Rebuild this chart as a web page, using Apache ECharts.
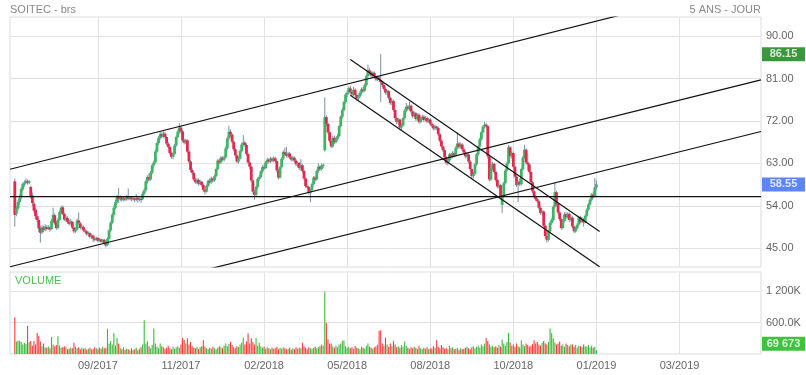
<!DOCTYPE html>
<html><head><meta charset="utf-8">
<script src="https://cdn.jsdelivr.net/npm/echarts@6/dist/echarts.min.js"></script>
<style>html,body{margin:0;padding:0;background:#fff}#c{width:806px;height:375px}</style>
</head><body><div id="c"></div>
<script>
// ---------- data ----------
const START = 3;               // category slot of the first candle
const CATEGORY_COUNT = 471;    // trading-day slots on the axis (incl. future)
const tickIndex  = [55,107,159,211,263,315,367,419];
const tickLabels = ['09/2017','11/2017','02/2018','05/2018','08/2018','10/2018','01/2019','03/2019'];
const priceTicks = [45,54,63,72,81,90];
const volTicks = [600,1200];
const volTickLabels = ['600.0K','1 200K'];
const lastClose = 58.55;
const periodHigh = 86.15;
const lastVolume = 69.673;     // thousands

// [open, close, low, high]
const candles = [
[59.2,52.1,49.6,59.8],
[52.3,53.5,51.8,54.0],[53.4,54.8,53.0,55.2],[54.8,55.7,54.2,56.4],
[55.8,57.6,55.4,58.0],[57.5,58.6,57.1,59.0],[58.5,58.9,58.1,59.4],[58.9,59.3,58.6,59.8],[59.2,58.9,58.5,59.6],[58.9,59.2,58.6,59.5],
[58.0,56.0,55.5,58.3],[56.2,54.6,54.0,56.8],
[54.5,53.0,52.5,55.0],[53.2,51.8,51.2,53.6],[51.8,51.0,50.5,52.4],
[51.0,49.2,48.5,51.4],[49.3,48.3,46.2,49.8],
[48.4,49.4,48.0,49.9],[49.4,48.9,48.4,49.8],[49.0,49.6,48.6,50.1],[49.5,49.1,48.8,49.9],[49.2,49.5,48.9,49.9],[49.4,49.0,48.5,49.7],
[49.1,50.8,48.9,51.2],[50.8,52.1,50.5,53.6],
[52.0,50.3,50.0,52.4],[50.4,49.3,48.9,50.8],
[49.3,51.0,49.0,51.4],[51.0,52.7,50.8,53.0],[52.7,53.6,52.2,54.0],
[53.7,52.3,52.0,54.1],[52.3,51.1,50.8,52.6],
[51.0,51.5,50.6,52.0],[51.4,50.6,50.2,51.8],[50.6,50.2,49.8,51.0],[50.3,50.8,50.0,51.2],
[50.6,49.4,49.1,50.8],[49.4,48.6,48.2,49.7],[48.6,49.0,48.3,49.4],
[49.0,50.9,48.8,51.3],[50.9,50.4,50.0,52.6],
[50.3,49.3,49.0,50.6],[49.3,49.6,49.0,49.9],[49.5,48.8,48.5,49.8],[48.8,48.6,48.2,49.1],[48.6,48.0,47.7,48.9],[48.0,48.3,47.6,48.6],
[48.2,47.4,47.1,48.4],[47.4,47.8,47.0,48.0],[47.7,47.1,46.3,47.9],[47.1,46.8,46.5,47.4],[46.8,47.2,46.6,47.5],[47.2,46.6,46.3,47.4],
[46.6,46.9,46.4,47.2],[46.9,46.4,46.1,47.1],[46.4,46.8,46.2,47.0],[46.8,46.0,45.7,47.0],[46.0,45.6,45.2,46.2],
[45.7,47.0,45.5,47.3],[47.0,48.8,46.8,49.1],[48.8,50.4,48.5,50.7],
[50.4,52.1,50.1,52.5],[52.1,53.6,51.6,54.1],
[53.6,54.8,53.3,55.3],[54.8,55.9,54.4,56.3],
[55.9,55.4,54.6,57.8],[55.4,55.8,55.0,56.2],[55.8,55.3,54.9,56.0],[55.3,55.7,55.0,56.0],[55.6,55.4,55.0,55.9],[55.4,55.9,55.1,56.3],[55.9,55.5,55.2,57.7],[55.5,55.8,55.2,56.1],[55.8,55.4,55.0,56.0],[55.4,55.6,55.1,55.9],[55.6,55.3,54.8,55.8],[55.3,55.7,55.0,56.5],[55.7,55.3,54.7,55.9],[55.3,55.5,55.0,55.8],[55.5,55.4,54.6,56.0],
[55.4,56.6,55.2,57.0],[56.6,57.3,56.2,57.8],
[57.3,59.2,57.0,59.5],[59.2,60.1,58.7,60.5],[60.1,59.6,59.2,60.9],
[59.6,61.0,59.3,61.4],[61.0,62.6,60.7,62.9],[62.6,63.2,62.1,63.6],
[63.2,65.5,63.0,65.9],[65.5,67.3,65.2,67.6],[67.3,68.4,66.9,68.8],[68.4,69.2,68.0,69.7],
[69.2,68.7,68.3,69.6],[68.7,69.3,68.4,69.8],[69.3,68.6,68.2,69.7],
[68.6,67.2,66.9,68.9],[67.2,66.5,66.0,67.6],[66.5,65.2,64.8,66.9],[65.2,64.4,64.0,65.6],[64.4,65.0,63.9,65.4],
[65.0,66.8,64.8,67.1],[66.8,68.6,66.5,68.9],[68.6,69.7,68.3,70.1],[69.7,70.6,69.3,71.5],[70.6,69.8,69.4,70.9],
[69.8,67.9,67.5,70.1],[67.9,67.4,67.0,68.3],[67.4,67.9,67.1,68.2],
[67.9,65.5,65.2,68.1],[65.5,63.4,63.0,65.8],[63.4,61.6,61.2,63.7],[61.6,61.0,60.5,62.0],
[61.0,59.6,59.3,61.3],[59.6,59.0,58.7,60.0],[59.0,59.5,58.6,59.9],[59.5,58.7,58.3,59.8],[58.7,59.1,58.4,59.5],[59.1,58.4,58.0,59.3],
[58.4,57.4,57.0,58.7],[57.4,57.0,56.4,57.8],
[57.0,58.2,56.8,58.5],[58.2,59.3,57.9,59.6],[59.3,59.0,58.6,59.8],[59.0,59.8,58.7,60.2],[59.8,59.4,59.0,60.0],[59.4,60.3,59.1,60.6],
[60.3,61.8,60.0,62.1],[61.8,63.6,61.5,63.9],[63.6,63.2,62.8,64.0],
[63.2,64.2,62.9,64.6],[64.2,63.8,63.5,64.5],[63.8,64.3,63.4,64.7],
[64.3,66.2,64.0,66.6],[66.2,68.3,65.9,68.7],[68.3,69.7,67.9,71.0],[69.7,69.1,68.6,70.2],
[69.1,67.6,67.2,69.4],[67.6,66.0,65.6,67.9],[66.0,64.7,64.2,66.3],[64.7,63.4,63.0,65.0],[63.4,64.0,63.0,64.4],
[64.0,65.6,63.8,65.9],[65.6,67.0,65.3,67.4],[67.0,67.4,66.6,69.0],[67.4,66.9,66.5,67.8],
[66.9,65.0,64.6,67.2],[65.0,63.2,62.8,65.3],[63.2,62.3,61.8,63.6],
[62.3,59.4,59.0,62.6],[59.4,57.0,56.6,59.7],[57.0,56.3,55.3,57.4],
[56.3,58.0,56.0,58.3],[58.0,59.7,57.6,60.0],[59.7,60.1,59.3,60.5],
[60.1,61.3,59.8,61.6],[61.3,62.2,60.9,62.6],[62.2,62.0,61.6,62.8],
[62.0,63.2,61.8,63.5],[63.2,63.8,62.8,64.2],[63.8,63.4,63.0,64.1],[63.4,64.0,63.1,64.4],[64.0,63.6,63.2,64.3],[63.6,64.1,63.3,64.5],[64.1,63.5,63.1,64.4],
[63.5,61.5,61.1,63.8],[61.5,60.0,59.6,61.8],
[60.0,62.2,59.8,62.5],[62.2,64.0,61.9,64.3],[64.0,65.4,63.7,65.8],[65.4,65.0,64.6,66.3],
[65.0,64.6,64.2,66.5],[64.6,65.1,64.2,65.5],[65.1,64.3,63.9,65.4],[64.3,63.8,63.4,64.6],
[63.8,64.2,63.4,64.6],[64.2,63.6,63.2,64.5],[63.6,62.8,62.4,63.9],[62.8,63.1,62.2,63.4],[63.1,62.0,61.6,63.3],
[62.0,62.6,61.5,63.9],[62.6,61.4,61.0,62.9],
[61.4,59.8,59.4,61.7],[59.8,58.2,57.8,60.1],[58.2,58.0,57.5,58.6],
[58.0,56.8,56.4,58.3],[56.8,57.3,54.8,57.6],
[57.3,58.6,57.0,58.9],[58.6,60.0,58.3,60.3],[60.0,59.6,59.2,60.4],
[59.6,61.4,59.3,61.7],[61.4,62.3,61.0,63.0],[62.3,61.8,61.4,62.6],
[61.8,62.5,61.5,62.9],[62.5,62.7,62.0,63.0],
[65.8,72.8,65.5,77.0],
[72.8,71.4,70.9,73.2],[71.4,69.6,69.2,71.7],[69.6,67.8,67.4,69.9],[67.8,66.6,66.2,68.1],
[66.6,68.4,66.3,68.8],[68.4,67.5,67.1,68.9],[67.5,68.2,67.2,68.6],[68.2,68.8,67.9,69.2],
[68.8,70.9,68.6,71.2],[70.9,72.9,70.6,73.2],[72.9,74.3,72.5,74.7],
[74.3,76.0,74.0,76.3],[76.0,77.6,75.7,77.9],[77.6,78.0,77.1,78.5],
[78.0,78.9,77.6,79.3],[78.9,78.2,77.8,79.5],[78.2,77.6,77.2,78.6],[77.6,78.6,77.3,79.2],
[78.6,77.5,77.1,78.9],[77.5,76.8,76.3,77.9],[76.8,77.2,76.4,77.6],
[77.2,78.0,76.9,78.3],[78.0,78.7,77.6,79.1],[78.7,78.4,78.0,79.2],[78.4,79.6,78.1,80.0],
[79.6,81.5,79.3,81.9],[81.5,82.7,81.1,83.9],[82.7,82.3,81.8,83.2],
[82.3,81.6,81.2,82.7],[81.6,82.2,81.3,82.5],[82.2,81.5,81.0,82.5],
[81.5,80.8,80.4,81.8],[80.8,81.2,80.5,81.6],[81.2,80.7,80.3,81.5],[80.7,80.2,76.0,86.15],
[80.2,79.6,79.2,80.5],[79.6,78.8,78.4,79.9],[78.8,78.0,77.6,79.1],[78.0,78.3,77.5,78.6],
[78.3,76.9,76.5,78.6],[76.9,75.8,75.4,77.2],[75.8,76.2,75.3,76.6],
[76.2,74.3,74.0,76.5],[74.3,72.6,72.2,74.6],[72.6,71.8,71.3,73.0],
[71.8,72.3,71.3,72.7],[72.3,70.6,70.2,72.5],[70.6,71.0,70.0,71.4],
[71.0,72.6,70.8,72.9],[72.6,74.2,72.3,74.5],[74.2,75.0,73.8,75.8],[75.0,74.6,74.2,75.4],
[74.6,75.2,74.2,76.1],[75.2,74.0,73.6,75.5],[74.0,73.0,72.6,74.3],[73.0,73.6,72.8,74.0],
[73.6,72.4,72.0,73.9],[72.4,73.3,72.1,73.6],[73.3,71.8,71.4,73.6],[71.8,72.5,71.5,72.8],
[72.5,72.9,72.1,73.3],[72.9,72.2,71.8,73.2],[72.2,72.6,71.9,73.0],[72.6,71.9,71.5,72.9],[71.9,72.3,71.6,72.6],
[72.3,71.4,71.0,72.6],[71.4,71.0,70.6,71.7],[71.0,70.4,70.0,71.3],[70.4,70.8,70.0,71.2],[70.8,70.5,70.1,71.0],
[70.5,69.2,68.8,70.8],[69.2,67.8,67.4,69.5],[67.8,66.6,66.2,68.1],[66.6,65.8,65.4,66.9],
[65.8,64.3,63.9,66.1],[64.3,63.1,62.7,64.6],[63.1,63.6,62.6,64.0],
[63.6,64.9,63.3,65.2],[64.9,64.4,64.0,65.3],[64.4,65.2,64.1,65.6],[65.2,64.7,64.3,65.5],
[64.7,66.3,64.4,66.7],[66.3,67.2,66.0,69.6],[67.2,66.5,66.1,67.6],[66.5,67.0,66.2,67.4],[67.0,66.0,65.6,67.3],
[66.0,65.3,64.9,66.4],[65.3,64.5,64.1,65.6],[64.5,64.9,64.2,65.3],
[64.9,63.4,63.0,65.2],[63.4,61.8,61.4,63.7],[61.8,60.3,59.9,62.1],[60.3,60.8,59.8,61.2],
[60.8,62.8,60.5,63.1],[62.8,64.9,62.5,65.2],[64.9,66.6,64.6,66.9],[66.6,68.1,66.3,68.4],
[68.1,69.6,67.8,69.9],[69.6,70.8,69.3,71.1],[70.8,71.2,70.4,71.8],[71.2,70.9,70.5,71.5],
[70.9,64.5,64.0,71.2],[64.5,59.6,59.2,64.8],
[59.6,62.0,59.3,63.3],[62.0,62.9,61.6,63.3],[62.9,61.2,60.8,63.1],
[61.2,59.5,59.1,61.5],[59.5,58.1,57.7,59.8],[58.1,58.4,57.6,58.8],
[58.4,55.8,55.4,58.6],[54.2,56.0,52.5,56.3],
[56.0,58.8,55.8,59.1],[58.8,61.5,58.5,61.8],[61.5,63.0,61.2,63.4],
[63.0,66.4,62.8,66.9],[66.4,64.6,64.2,66.7],[64.6,65.2,64.0,65.6],
[65.2,62.3,61.9,65.5],[62.3,60.2,59.8,62.6],[60.2,58.4,58.0,60.5],[58.4,59.1,54.8,59.4],[59.1,58.6,58.2,59.8],
[58.6,61.8,58.3,62.1],[61.8,64.3,61.5,64.6],[64.3,65.9,64.0,66.9],
[65.9,63.2,62.8,66.2],[63.2,62.8,61.5,65.1],[62.8,61.2,60.8,63.1],
[61.2,59.0,58.6,61.5],[59.0,57.1,56.7,59.3],[57.1,56.0,55.6,57.4],
[56.0,55.4,55.0,56.3],[55.4,55.0,54.6,55.7],
[55.0,53.6,53.2,55.3],[53.6,52.5,52.1,53.9],[52.5,52.8,52.0,53.2],
[52.8,49.8,49.4,53.0],[49.8,47.6,47.2,50.1],[47.6,46.8,46.2,47.9],
[46.8,48.6,46.5,48.9],[48.6,50.4,48.3,50.7],[50.4,51.0,50.0,51.4],
[51.0,53.8,50.7,54.1],[53.8,56.9,53.5,58.9],[56.9,54.4,54.0,57.2],
[54.4,52.6,52.2,54.7],[52.6,51.2,50.8,52.9],[51.2,49.3,48.9,51.5],[49.3,50.8,49.0,51.1],
[50.8,52.2,50.5,52.6],[52.2,51.6,51.2,52.7],[51.6,52.3,51.3,52.6],[52.3,51.0,50.6,52.6],
[51.0,51.5,50.7,51.9],[51.5,49.6,49.2,51.8],[49.6,48.6,48.2,49.9],[48.6,49.3,48.3,49.6],[49.3,50.0,49.0,50.3],
[50.0,51.6,49.8,51.9],[51.6,50.6,50.3,51.9],[50.6,51.2,50.3,51.6],[51.2,50.5,49.6,51.4],
[50.5,51.9,50.3,52.2],[51.9,53.2,51.6,53.5],[53.2,54.3,52.9,54.6],
[54.3,55.3,54.0,55.6],[55.3,56.4,55.0,56.7],[56.4,56.0,55.6,57.0],
[56.0,57.9,55.8,59.9],[57.9,58.55,57.5,59.4]
];

// volume, thousands of shares
const volumes = [
705,240,260,250,230,180,210,190,535,230,
250,160,250,180,403,340,240,150,200,130,
120,140,110,327,180,150,170,340,160,120,
130,150,140,90,100,120,110,215,140,110,
130,90,120,100,110,80,100,120,90,100,
130,110,90,120,100,140,110,120,486,200,
250,180,403,160,308,200,110,90,130,80,
100,90,70,110,80,90,120,70,100,130,
180,643,200,246,150,110,170,486,200,140,
110,202,150,130,100,120,160,110,90,140,
100,130,150,120,180,308,270,200,302,180,
230,150,120,110,140,100,130,150,265,140,
110,90,120,100,140,110,90,120,150,130,
110,160,200,150,190,233,170,130,110,150,
130,180,220,316,180,240,392,200,302,230,
180,300,160,214,150,120,140,100,130,110,
90,120,100,110,140,90,120,100,130,110,
90,100,120,80,110,90,130,100,120,110,
214,150,120,90,130,110,100,120,140,110,
130,150,180,160,1192,593,277,200,202,150,
120,160,130,180,200,252,260,150,120,140,
110,130,100,150,120,110,90,140,120,100,
160,200,140,120,100,130,150,180,441,454,
200,160,315,180,140,200,150,252,180,130,
150,120,170,140,240,160,120,100,130,110,
140,120,100,160,110,90,120,100,130,90,
110,100,150,120,265,140,110,170,130,100,
120,90,157,110,130,90,100,120,80,110,
90,100,120,140,110,90,130,150,110,140,
160,120,180,150,200,308,250,180,140,160,
130,150,120,170,140,277,200,160,230,403,
220,160,180,140,200,150,130,265,180,150,
200,170,140,160,190,265,200,230,180,160,
210,250,200,180,230,486,403,296,220,180,
200,240,160,180,140,200,170,150,180,180,
140,170,120,160,150,130,180,150,140,170,
130,160,120,140,69.673
];

// trend lines: [[slot, price], [slot, price]]
const trendLines = [
  [[0,61.75],[400,95.98]],
  [[0,41.10],[470,80.70]],
  [[120,40.23],[470,69.76]],
  [[213,85.00],[369,48.56]],
  [[213,77.43],[369,41.08]],
  [[0,55.97],[470,55.97]]
];

// ---------- styles ----------
const UP = '#3db565', DOWN = '#e8264a', WICK = '#7890aa';
const VUP = '#3cba3c', VDOWN = '#ff3b3b';
const GRIDC = '#e2e2e2', TXT = '#666', FONT = 'Liberation Sans';

const categories = [];
for (let i = 0; i < CATEGORY_COUNT; i++) categories.push(String(i));
const labelMap = {};
tickIndex.forEach((t, k) => labelMap[t] = tickLabels[k]);
const isTick = (idx) => labelMap[idx] !== undefined;

const candleData = candles.map((c, i) => [START + i, c[0], c[1], c[2], c[3]]);
const volData = volumes.map((v, i) => ({
  value: [START + i, v],
  itemStyle: { color: candles[i][1] >= candles[i][0] ? VUP : VDOWN }
}));

const chart = echarts.init(document.getElementById('c'), null, {renderer: 'canvas'});

const xBase = {
  type: 'category', data: categories, boundaryGap: false,
  axisLine: {show: false}, axisTick: {show: false},
  splitLine: {show: true, interval: (i) => isTick(i), lineStyle: {color: GRIDC, width: 1}}
};

const series = [
  {
    type: 'custom', xAxisIndex: 0, yAxisIndex: 0, z: 2,
    data: candleData,
    encode: {x: 0, y: [1, 2, 3, 4]},
    renderItem: function (params, api) {
      const x = api.value(0), o = api.value(1), c = api.value(2), l = api.value(3), h = api.value(4);
      const pH = api.coord([x, h]), pL = api.coord([x, l]);
      const pO = api.coord([x, o]), pC = api.coord([x, c]);
      const top = Math.min(pO[1], pC[1]);
      const bh = Math.max(Math.abs(pO[1] - pC[1]), 1.2);
      return {type: 'group', children: [
        {type: 'line', shape: {x1: pH[0], y1: pH[1], x2: pL[0], y2: pL[1]}, style: {stroke: WICK, lineWidth: 1}},
        {type: 'rect', shape: {x: pO[0] - 1.4, y: top, width: 2.8, height: bh}, style: {fill: c >= o ? UP : DOWN}}
      ]};
    }
  },
  {
    type: 'bar', xAxisIndex: 1, yAxisIndex: 1, data: volData, barWidth: 1.1, z: 2
  }
];

trendLines.forEach(pts => series.push({
  type: 'line', xAxisIndex: 0, yAxisIndex: 0, data: pts, symbol: 'none', showSymbol: false,
  lineStyle: {color: '#111', width: 1.2}, silent: true, z: 5
}));

// value tags on the right side
series.push({
  type: 'scatter', xAxisIndex: 0, yAxisIndex: 0, clip: false, z: 10, silent: true,
  symbol: 'rect', symbolSize: [43, 14], symbolOffset: [22.5, 0],
  data: [
    {value: [CATEGORY_COUNT - 1, periodHigh], itemStyle: {color: '#0a7d0a'}},
    {value: [CATEGORY_COUNT - 1, lastClose], itemStyle: {color: '#3366f5'}}
  ],
  label: {show: true, position: 'inside', color: '#fff', fontWeight: 'bold', fontSize: 11, fontFamily: FONT,
          formatter: p => p.value[1].toFixed(2)}
});
series.push({
  type: 'scatter', xAxisIndex: 1, yAxisIndex: 1, clip: false, z: 10, silent: true,
  symbol: 'rect', symbolSize: [43, 14], symbolOffset: [22.5, -6.5],
  data: [{value: [CATEGORY_COUNT - 1, lastVolume], itemStyle: {color: '#11b011'}}],
  label: {show: true, position: 'inside', color: '#fff', fontWeight: 'bold', fontSize: 11, fontFamily: FONT,
          formatter: p => String(Math.round(p.value[1] * 1000)).replace(/\B(?=(\d{3})+(?!\d))/g, ' ')}
});

chart.setOption({
  animation: false,
  backgroundColor: '#fff',
  textStyle: {fontFamily: FONT},
  title: [
    {text: 'SOITEC - brs', left: 10, top: 4, padding: 0, textStyle: {fontSize: 11, fontWeight: 'normal', color: '#888', fontFamily: FONT}},
    {text: '5 ANS - JOUR', right: 45, top: 4, padding: 0, textStyle: {fontSize: 11, fontWeight: 'normal', color: '#888', fontFamily: FONT}},
    {text: 'VOLUME', left: 15, top: 275, padding: 0, textStyle: {fontSize: 11, fontWeight: 'normal', color: '#4cc04c', fontFamily: FONT}}
  ],
  grid: [
    {left: 10, right: 45, top: 17, height: 250, show: true, borderColor: '#dcdcdc', borderWidth: 1},
    {left: 10, right: 45, top: 272, height: 82, show: true, borderColor: '#dcdcdc', borderWidth: 1}
  ],
  xAxis: [
    Object.assign({}, xBase, {gridIndex: 0, axisLabel: {show: false}}),
    Object.assign({}, xBase, {gridIndex: 1, axisLabel: {
      show: true, interval: (i) => isTick(i), formatter: (v, i) => labelMap[i] || '',
      color: TXT, fontSize: 11, fontFamily: FONT, margin: 6
    }})
  ],
  yAxis: [
    {type: 'value', gridIndex: 0, position: 'right', min: 41.04, max: 94.03, scale: true,
     axisLine: {show: false}, axisTick: {show: false, customValues: priceTicks},
     axisLabel: {customValues: priceTicks, formatter: v => v.toFixed(2), color: TXT, fontSize: 11, fontFamily: FONT, margin: 5},
     splitLine: {show: true, lineStyle: {color: GRIDC}}},
    {type: 'value', gridIndex: 1, position: 'right', min: 0, max: 1568,
     axisLine: {show: false}, axisTick: {show: false, customValues: volTicks},
     axisLabel: {customValues: volTicks, formatter: v => volTickLabels[volTicks.indexOf(v)] || '', color: TXT, fontSize: 11, fontFamily: FONT, margin: 5},
     splitLine: {show: true, lineStyle: {color: GRIDC}}}
  ],
  series: series
});
</script></body></html>
